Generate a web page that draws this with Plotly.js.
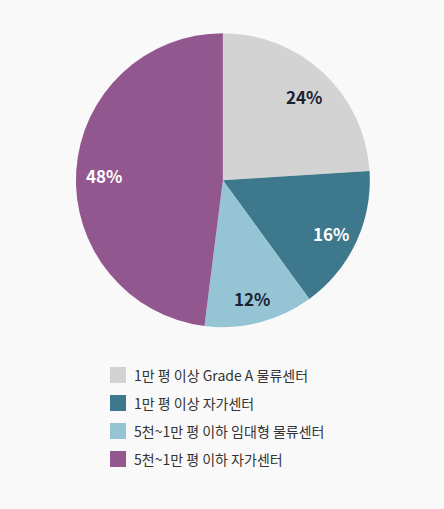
<!DOCTYPE html>
<html>
<head>
<meta charset="utf-8">
<script src="https://cdn.plot.ly/plotly-3.0.1.min.js"></script>
<style>
  html, body { margin: 0; padding: 0; background: #f9f9f9; }
  #chart { width: 444px; height: 509px; }
</style>
</head>
<body>
<div id="chart"></div>
<script>
const labels = [
  '1만 평 이상 Grade A 물류센터',
  '1만 평 이상 자가센터',
  '5천~1만 평 이하 임대형 물류센터',
  '5천~1만 평 이하 자가센터'
]
const shares = [24, 16, 12, 48]
const sliceColors = ['#d3d3d3', '#3e788c', '#95c5d5', '#93578f']
const labelColors = ['#1b2333', '#ffffff', '#1b2333', '#ffffff']

const font = '"Noto Sans CJK KR", "Noto Sans", sans-serif'
const W = 444
const H = 509

// pie box in paper coords
const pieX = [0.171, 0.833]
const pieY = [0.357, 0.935]
const cx = (pieX[0] + pieX[1]) / 2 * W
const cy = (1 - (pieY[0] + pieY[1]) / 2) * H
const radius = (pieX[1] - pieX[0]) * W / 2

// percent labels sit at about 0.8 of the radius, mid-slice
const total = shares.reduce((a, b) => a + b, 0)
const annotations = []
let acc = 0
shares.forEach((v, i) => {
  const mid = (acc + v / 2) / total * 2 * Math.PI
  acc += v
  const px = cx + 0.81 * radius * Math.sin(mid)
  const py = cy - 0.81 * radius * Math.cos(mid) + 3
  annotations.push({
    xref: 'paper', yref: 'paper',
    x: px / W, y: 1 - py / H,
    xanchor: 'center', yanchor: 'middle',
    text: Math.round(v / total * 100) + '%',
    showarrow: false,
    font: { family: font, size: 17, color: labelColors[i], weight: 'bold' }
  })
})

// legend, drawn by hand to get the roomy spacing
const shapes = []
const legendLeft = 110
const legendTop = 375
const legendStep = 28
labels.forEach((lab, i) => {
  const yc = legendTop + i * legendStep
  shapes.push({
    type: 'rect', xref: 'paper', yref: 'paper',
    x0: legendLeft / W, x1: (legendLeft + 16) / W,
    y0: 1 - (yc + 8) / H, y1: 1 - (yc - 8) / H,
    fillcolor: sliceColors[i], line: { width: 0 }
  })
  annotations.push({
    xref: 'paper', yref: 'paper',
    x: (legendLeft + 22) / W, y: 1 - yc / H,
    xanchor: 'left', yanchor: 'middle',
    text: lab, showarrow: false,
    font: { family: font, size: 14, color: '#333333' }
  })
})

Plotly.newPlot('chart', [
  {
    type: 'pie',
    labels: labels,
    values: shares,
    sort: false,
    direction: 'clockwise',
    rotation: 0,
    marker: { colors: sliceColors, line: { width: 0 } },
    textinfo: 'none',
    hoverinfo: 'label+percent',
    domain: { x: pieX, y: pieY }
  }
], {
  width: W,
  height: H,
  margin: { l: 0, r: 0, t: 0, b: 0 },
  paper_bgcolor: '#f9f9f9',
  showlegend: false,
  annotations: annotations,
  shapes: shapes
}, { displayModeBar: false, staticPlot: true })
</script>
</body>
</html>
